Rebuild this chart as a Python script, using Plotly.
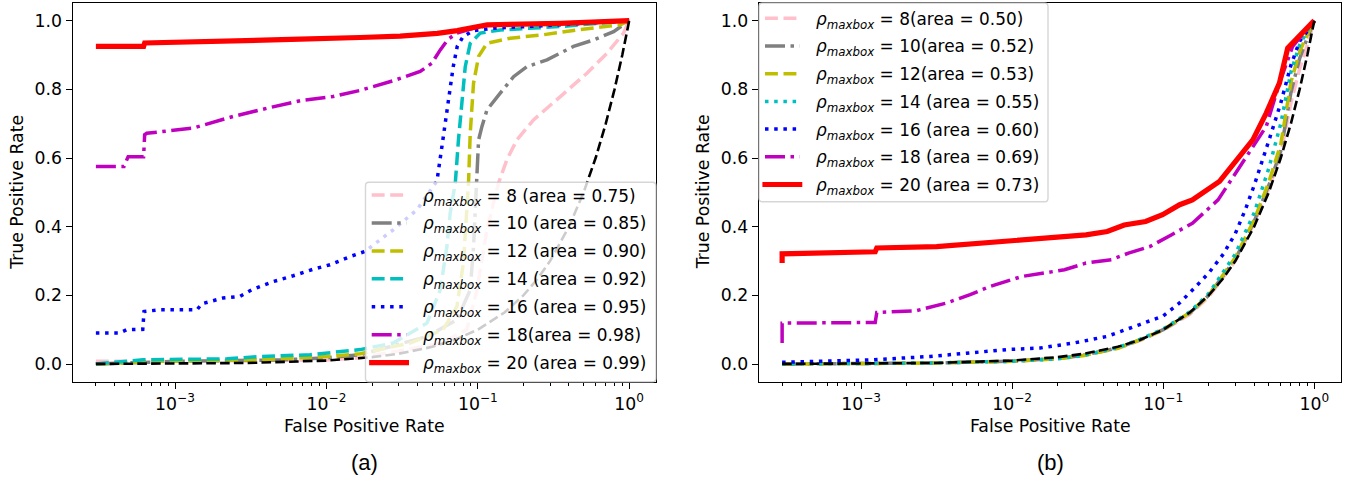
import plotly.graph_objects as go

W, H = 1354, 480
FONT = "DejaVu Sans"
FS = 17.3
FS_LEG = 16.9

# ---------------- panel (a) ROC data ----------------
a8_fpr = [3.0e-4, 1.0e-3, 1.0e-2, 0.0167, 0.0565, 0.0847, 0.0987, 0.1149, 0.137, 0.1556, 0.1812, 0.2333, 0.351, 0.526, 0.7135, 0.918, 1.0]
a8_tpr = [0.008, 0.008, 0.012, 0.018, 0.06, 0.10, 0.216, 0.391, 0.527, 0.595, 0.653, 0.711, 0.779, 0.847, 0.905, 0.964, 1.0]

a10_fpr = [3e-4, 1e-3, 5e-3, 0.01, 0.0167, 0.0461, 0.0728, 0.0891, 0.0937, 0.0987, 0.1012, 0.1065, 0.1149, 0.1406, 0.1722, 0.2112, 0.2864, 0.4287, 0.5817, 0.789, 1.0]
a10_tpr = [0.0, 0.008, 0.012, 0.018, 0.027, 0.080, 0.129, 0.216, 0.342, 0.527, 0.653, 0.692, 0.740, 0.789, 0.837, 0.866, 0.886, 0.925, 0.944, 0.968, 1.0]

a12_fpr = [3e-4, 7.96e-4, 3.65e-3, 0.0101, 0.0167, 0.0357, 0.059, 0.0728, 0.0803, 0.0847, 0.0868, 0.0891, 0.0937, 0.1012, 0.1149, 0.1637, 0.2704, 0.4515, 0.873, 1.0]
a12_tpr = [0.0, 0.0077, 0.0125, 0.022, 0.030, 0.061, 0.10, 0.168, 0.294, 0.44, 0.527, 0.672, 0.818, 0.896, 0.934, 0.949, 0.959, 0.973, 0.988, 1.0]

a14_fpr = [3e-4, 3.71e-4, 6.15e-4, 2.21e-3, 3.65e-3, 7.8e-3, 0.01177, 0.0167, 0.0276, 0.0461, 0.0565, 0.0625, 0.0657, 0.071, 0.0745, 0.0785, 0.0826, 0.0891, 0.1038, 0.1406, 0.351, 1.0]
a14_tpr = [0.0, 0.003, 0.0125, 0.015, 0.022, 0.027, 0.034, 0.042, 0.061, 0.119, 0.216, 0.342, 0.44, 0.527, 0.653, 0.769, 0.866, 0.934, 0.964, 0.973, 0.983, 1.0]

a16_fpr = [3e-4, 4.28e-4, 4.8e-4, 6.12e-4, 6.24e-4, 7.96e-4, 1.397e-3, 1.5e-3, 2.07e-3, 2.69e-3, 3.21e-3, 4.45e-3, 6.03e-3, 8.17e-3, 0.01057, 0.01434, 0.0180, 0.0276, 0.0396, 0.0484, 0.0537, 0.0579, 0.0618, 0.0657, 0.0688, 0.0731, 0.080, 0.0933, 0.1265, 0.351, 1.0]
a16_tpr = [0.090, 0.090, 0.0999, 0.101, 0.153, 0.158, 0.158, 0.1755, 0.192, 0.197, 0.216, 0.240, 0.257, 0.276, 0.289, 0.313, 0.328, 0.391, 0.449, 0.507, 0.533, 0.633, 0.721, 0.789, 0.866, 0.925, 0.954, 0.971, 0.978, 0.988, 1.0]

a18_fpr = [3e-4, 4.6e-4, 4.9e-4, 6.2e-4, 6.3e-4, 6.5e-4, 1.315e-3, 2.42e-3, 4.05e-3, 6.7e-3, 0.01107, 0.0167, 0.0276, 0.0416, 0.0497, 0.0565, 0.0637, 0.0728, 0.0933, 0.1265, 0.351, 1.0]
a18_tpr = [0.575, 0.575, 0.604, 0.604, 0.668, 0.672, 0.687, 0.721, 0.745, 0.767, 0.779, 0.797, 0.825, 0.852, 0.876, 0.915, 0.946, 0.964, 0.978, 0.988, 0.993, 1.0]

a20_fpr = [3e-4, 6.2e-4, 6.3e-4, 1.46e-3, 3.13e-3, 6.7e-3, 0.0167, 0.0307, 0.054, 0.0731, 0.1154, 0.351, 1.0]
a20_tpr = [0.925, 0.925, 0.935, 0.938, 0.942, 0.946, 0.951, 0.955, 0.963, 0.971, 0.988, 0.992, 1.0]

# chance diagonal (fpr == tpr)
chance = [3e-4, 1e-3, 3e-3, 0.01, 0.02, 0.03, 0.05, 0.07, 0.1, 0.15, 0.2, 0.25, 0.3, 0.4, 0.5, 0.6, 0.7, 0.8, 0.9, 1.0]

# ---------------- panel (b) ROC data ----------------
b_grid = [3e-4, 1e-3, 3e-3, 0.01, 0.02, 0.03, 0.05, 0.07, 0.1, 0.15, 0.2, 0.3, 0.4, 0.5, 0.6, 0.7, 0.8, 0.9, 1.0]
b8_tpr = [0.0, 0.001, 0.003, 0.008, 0.016, 0.026, 0.046, 0.068, 0.098, 0.145, 0.195, 0.30, 0.41, 0.51, 0.61, 0.76, 0.86, 0.93, 1.0]
b10_tpr = [0.0, 0.001, 0.003, 0.008, 0.016, 0.026, 0.047, 0.070, 0.100, 0.148, 0.200, 0.305, 0.415, 0.52, 0.62, 0.79, 0.89, 0.95, 1.0]
b12_tpr = [0.0, 0.001, 0.003, 0.008, 0.015, 0.025, 0.046, 0.070, 0.100, 0.150, 0.200, 0.31, 0.42, 0.53, 0.64, 0.82, 0.91, 0.96, 1.0]
b14_tpr = [0.0, 0.001, 0.003, 0.008, 0.015, 0.025, 0.048, 0.072, 0.102, 0.152, 0.205, 0.32, 0.44, 0.57, 0.70, 0.85, 0.93, 0.97, 1.0]

b16_fpr = [3e-4, 1.21e-3, 2.87e-3, 5.55e-3, 9.2e-3, 0.0153, 0.0254, 0.0422, 0.0516, 0.07, 0.1, 0.13, 0.16, 0.2, 0.25, 0.3, 0.35, 0.4, 0.5, 0.6, 0.7, 0.8, 0.9, 1.0]
b16_tpr = [0.005, 0.0125, 0.022, 0.032, 0.042, 0.0466, 0.061, 0.080, 0.095, 0.115, 0.14, 0.18, 0.22, 0.265, 0.32, 0.38, 0.45, 0.52, 0.65, 0.76, 0.87, 0.94, 0.97, 1.0]

b18_fpr = [3e-4, 3e-4, 1.24e-3, 1.27e-3, 2.3e-3, 2.73e-3, 3.70e-3, 5.27e-3, 7.15e-3, 0.01161, 0.0222, 0.0308, 0.0454, 0.0589, 0.0815, 0.113, 0.156, 0.2307, 0.392, 0.481, 0.588, 0.719, 1.0]
b18_tpr = [0.061, 0.119, 0.121, 0.150, 0.155, 0.163, 0.178, 0.202, 0.226, 0.255, 0.2745, 0.294, 0.304, 0.323, 0.342, 0.376, 0.410, 0.478, 0.634, 0.692, 0.818, 0.925, 1.0]

b20_fpr = [3e-4, 3e-4, 1.24e-3, 1.27e-3, 3.16e-3, 6.05e-3, 0.0102, 0.0222, 0.0308, 0.0426, 0.0552, 0.0765, 0.099, 0.1285, 0.156, 0.236, 0.320, 0.392, 0.481, 0.588, 0.667, 0.758, 1.0]
b20_tpr = [0.294, 0.321, 0.327, 0.338, 0.342, 0.352, 0.362, 0.372, 0.376, 0.386, 0.405, 0.415, 0.435, 0.464, 0.478, 0.532, 0.604, 0.653, 0.731, 0.818, 0.920, 0.944, 1.0]

labels_a = ["= 8 (area = 0.75)", "= 10 (area = 0.85)", "= 12 (area = 0.90)", "= 14 (area = 0.92)",
            "= 16 (area = 0.95)", "= 18(area = 0.98)", "= 20 (area = 0.99)"]
labels_b = ["= 8(area = 0.50)", "= 10(area = 0.52)", "= 12(area = 0.53)", "= 14 (area = 0.55)",
            "= 16 (area = 0.60)", "= 18 (area = 0.69)", "= 20 (area = 0.73)"]

ytick_vals = [0.0, 0.2, 0.4, 0.6, 0.8, 1.0]
ytick_text = ["0.0", "0.2", "0.4", "0.6", "0.8", "1.0"]
xtick_vals = [1e-3, 1e-2, 1e-1, 1.0]
xtick_text = ["10<sup>\u22123</sup>", "10<sup>\u22122</sup>", "10<sup>\u22121</sup>", "10<sup>0</sup>"]

# line styles (matplotlib-like dash patterns at this resolution)
DASH = "12.9px,5.6px"
DOT = "3.5px,5.7px"
DASHDOT = "20px,5.5px,3.5px,5.5px"
BLACKDASH = "9.6px,4.2px"
LW = 3.5

styles_a = [
    ("pink", DASH, LW), ("gray", DASHDOT, LW), ("#bfbf00", DASH, LW), ("#00bfbf", DASH, LW),
    ("blue", DOT, LW), ("#bf00bf", DASHDOT, LW), ("red", "solid", 5.2)]
styles_b = [
    ("pink", DASH, LW), ("gray", DASHDOT, LW), ("#bfbf00", DASH, LW), ("#00bfbf", DOT, LW),
    ("blue", DOT, LW), ("#bf00bf", DASHDOT, LW), ("red", "solid", 5.2)]

series_a = [(a8_fpr, a8_tpr), (a10_fpr, a10_tpr), (a12_fpr, a12_tpr), (a14_fpr, a14_tpr),
            (a16_fpr, a16_tpr), (a18_fpr, a18_tpr), (a20_fpr, a20_tpr)]
series_b = [(b_grid, b8_tpr), (b_grid, b10_tpr), (b_grid, b12_tpr), (b_grid, b14_tpr),
            (b16_fpr, b16_tpr), (b18_fpr, b18_tpr), (b20_fpr, b20_tpr)]

fig = go.Figure()

for (xs, ys), (col, dash, w) in zip(series_a, styles_a):
    fig.add_trace(go.Scatter(x=xs, y=ys, mode="lines", xaxis="x", yaxis="y",
                             line=dict(color=col, dash=dash, width=w), showlegend=False))
fig.add_trace(go.Scatter(x=chance, y=chance, mode="lines", xaxis="x", yaxis="y",
                         line=dict(color="black", dash=BLACKDASH, width=2.6), showlegend=False))

for (xs, ys), (col, dash, w) in zip(series_b, styles_b):
    fig.add_trace(go.Scatter(x=xs, y=ys, mode="lines", xaxis="x2", yaxis="y2",
                             line=dict(color=col, dash=dash, width=w), showlegend=False))
fig.add_trace(go.Scatter(x=chance, y=chance, mode="lines", xaxis="x2", yaxis="y2",
                         line=dict(color="black", dash=BLACKDASH, width=2.6), showlegend=False))


def px(x):
    return x / W


def py(y):
    return 1 - y / H


# axes geometry (pixels)
AX_A = (72.7, 656.0)
AX_B = (759.0, 1341.0)
AX_TOP, AX_BOT = 3.0, 381.7

minor_vals = [m * 10 ** e for e in range(-4, 1) for m in range(2, 10) if 2.5e-4 < m * 10 ** e < 1.4]

xcommon = dict(type="log", range=[-3.676, 0.177], tickmode="array", tickvals=xtick_vals, ticktext=xtick_text,
               showline=True, mirror=True, linecolor="black", linewidth=1.4,
               ticks="outside", ticklen=6, tickwidth=1.4, tickcolor="black",
               showgrid=False, zeroline=False,
               tickfont=dict(family=FONT, size=FS, color="black"),
               minor=dict(tickmode="array", tickvals=minor_vals, ticks="outside", ticklen=3.5,
                          tickwidth=1, tickcolor="black", showgrid=False))
ycommon = dict(range=[-0.0515, 1.0515], tickmode="array", tickvals=ytick_vals, ticktext=ytick_text,
               showline=True, mirror=True, linecolor="black", linewidth=1.4,
               ticks="outside", ticklen=6, tickwidth=1.4, tickcolor="black",
               showgrid=False, zeroline=False,
               tickfont=dict(family=FONT, size=FS, color="black"))

fig.update_layout(
    width=W, height=H, autosize=False,
    margin=dict(l=0, r=0, t=0, b=0, pad=0),
    paper_bgcolor="white", plot_bgcolor="white",
    xaxis=dict(domain=[px(AX_A[0]), px(AX_A[1])], anchor="y", **xcommon),
    yaxis=dict(domain=[py(AX_BOT), py(AX_TOP)], anchor="x", **ycommon),
    xaxis2=dict(domain=[px(AX_B[0]), px(AX_B[1])], anchor="y2", **xcommon),
    yaxis2=dict(domain=[py(AX_BOT), py(AX_TOP)], anchor="x2", **ycommon),
    showlegend=False,
)


def rounded_box(x0, y0, x1, y1, r):
    pts = [
        f"M{px(x0 + r)},{py(y0)}", f"L{px(x1 - r)},{py(y0)}", f"Q{px(x1)},{py(y0)} {px(x1)},{py(y0 + r)}",
        f"L{px(x1)},{py(y1 - r)}", f"Q{px(x1)},{py(y1)} {px(x1 - r)},{py(y1)}",
        f"L{px(x0 + r)},{py(y1)}", f"Q{px(x0)},{py(y1)} {px(x0)},{py(y1 - r)}",
        f"L{px(x0)},{py(y0 + r)}", f"Q{px(x0)},{py(y0)} {px(x0 + r)},{py(y0)}", "Z"]
    return " ".join(pts)


shapes = []
annotations = []


def legend(box, handle_x0, text_x, row_y0, row_step, labels, styles):
    shapes.append(dict(type="path", xref="paper", yref="paper", layer="above",
                       path=rounded_box(*box, 3.5),
                       fillcolor="rgba(255,255,255,0.8)", line=dict(color="rgba(204,204,204,0.8)", width=1.4)))
    for i, (lab, (col, dash, w)) in enumerate(zip(labels, styles)):
        yy = row_y0 + i * row_step
        x0, x1 = handle_x0, handle_x0 + 34.7
        if dash == "solid":
            x0, x1 = x0 - 2.6, x1 + 2.6
        shapes.append(dict(type="line", xref="paper", yref="paper", layer="above",
                           x0=px(x0), x1=px(x1), y0=py(yy), y1=py(yy),
                           line=dict(color=col, dash=dash, width=w)))
        annotations.append(dict(xref="paper", yref="paper", x=px(text_x), y=py(yy + 2),
                                xanchor="left", yanchor="middle", showarrow=False,
                                text="<i>\u03c1</i><sub><i>maxbox</i></sub> " + lab,
                                font=dict(family=FONT, size=FS_LEG, color="black")))


legend((365.5, 182.3, 656.0, 381.7), 371.7, 420.5, 195.0, 27.95, labels_a, styles_a)
legend((759.0, 3.0, 1048.0, 201.7), 765.0, 813.8, 18.3, 27.7, labels_b, styles_b)

# axis titles and panel captions
for cx in [(AX_A[0] + AX_A[1]) / 2, (AX_B[0] + AX_B[1]) / 2]:
    annotations.append(dict(xref="paper", yref="paper", x=px(cx), y=py(426), xanchor="center", yanchor="middle",
                            showarrow=False, text="False Positive Rate",
                            font=dict(family=FONT, size=FS, color="black")))
for lx in [17.5, 703.0]:
    annotations.append(dict(xref="paper", yref="paper", x=px(lx), y=py((AX_TOP + AX_BOT) / 2),
                            xanchor="center", yanchor="middle", textangle=-90, showarrow=False,
                            text="True Positive Rate", font=dict(family=FONT, size=FS, color="black")))
for cx, cap in [((AX_A[0] + AX_A[1]) / 2, "(a)"), ((AX_B[0] + AX_B[1]) / 2, "(b)")]:
    annotations.append(dict(xref="paper", yref="paper", x=px(cx), y=py(462), xanchor="center", yanchor="middle",
                            showarrow=False, text=cap,
                            font=dict(family="Liberation Sans", size=22, color="black")))

fig.update_layout(shapes=shapes, annotations=annotations)
fig.write_html("out.html")
